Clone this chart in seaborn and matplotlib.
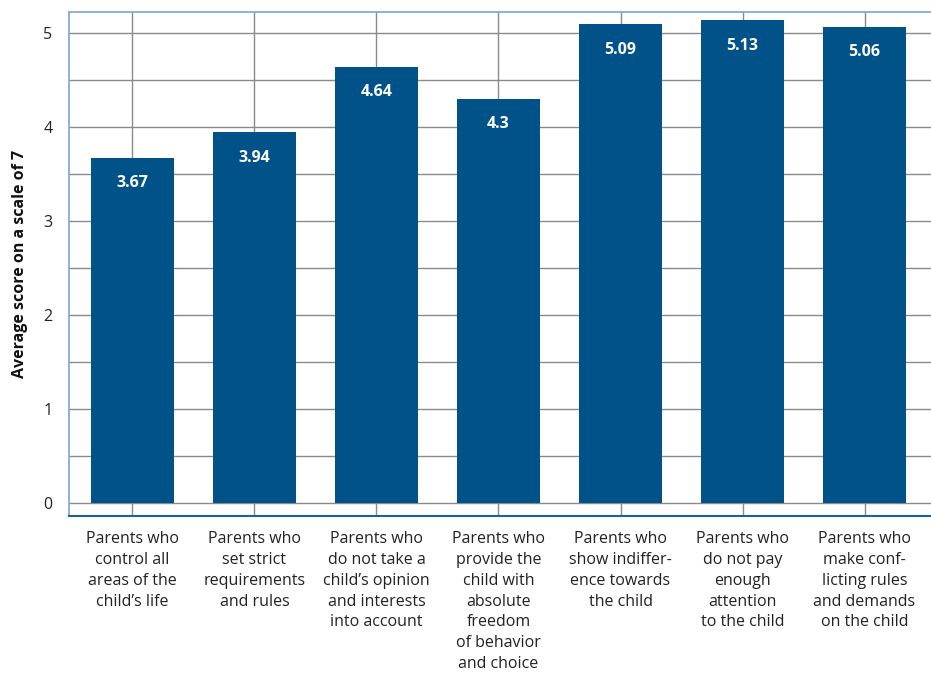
import matplotlib
matplotlib.use("Agg")
import matplotlib.pyplot as plt
import seaborn as sns
import pandas as pd
import numpy as np

categories = [
    "Parents who\ncontrol all\nareas of the\nchild\u2019s life",
    "Parents who\nset strict\nrequirements\nand rules",
    "Parents who\ndo not take a\nchild\u2019s opinion\nand interests\ninto account",
    "Parents who\nprovide the\nchild with\nabsolute\nfreedom\nof behavior\nand choice",
    "Parents who\nshow indiffer-\nence towards\nthe child",
    "Parents who\ndo not pay\nenough\nattention\nto the child",
    "Parents who\nmake conf-\nlicting rules\nand demands\non the child",
]
scores = [3.67, 3.94, 4.64, 4.3, 5.09, 5.13, 5.06]
value_labels = ["3.67", "3.94", "4.64", "4.3", "5.09", "5.13", "5.06"]
y_ticks = [0, 1, 2, 3, 4, 5]
y_label = "Average score on a scale of 7"

sns.set_theme(style="white")
plt.rcParams["font.family"] = ["Open Sans", "DejaVu Sans"]

df = pd.DataFrame({"cat": categories, "score": scores})

fig = plt.figure(figsize=(9.31, 6.73), dpi=100)
ax = fig.add_axes([69 / 931, 1 - 516 / 673, 1 - 69 / 931 + 0.002, (516 - 12) / 673])

bar_color = "#02528a"
sns.barplot(data=df, x="cat", y="score", color=bar_color, saturation=1,
            width=0.68, ax=ax, zorder=3, edgecolor="none")

ax.set_ylim(-0.14, 5.22)
ax.set_xlim(-0.52, 6.56)

# grid
ax.set_yticks(np.arange(0, 5.01, 0.5), minor=True)
ax.set_yticks(y_ticks)
ax.set_yticklabels([str(t) for t in y_ticks], fontsize=11.5, color="#222222")
ax.grid(True, which="both", axis="y", color="#8a8a8a", linewidth=1.0, zorder=0)
ax.grid(True, which="major", axis="x", color="#8a8a8a", linewidth=1.0, zorder=0)
ax.set_axisbelow(True)
ax.tick_params(axis="both", which="both", length=0)
ax.tick_params(axis="y", pad=12)
ax.tick_params(axis="x", pad=11)

ax.set_xticks(range(len(categories)))
ax.set_xticklabels(categories, fontsize=11.5, color="#222222", linespacing=1.4,
                   va="top", ha="center")
ax.set_xlabel("")
ax.set_ylabel(y_label, fontsize=11.5, fontweight="bold", color="#111111", labelpad=11)

for side in ["top", "left", "right"]:
    ax.spines[side].set_color("#7aa6cc")
    ax.spines[side].set_linewidth(1.2)
ax.spines["bottom"].set_color("#1f5f99")
ax.spines["bottom"].set_linewidth(1.5)

for i, (v, lab) in enumerate(zip(scores, value_labels)):
    ax.text(i, v - 0.27, lab, ha="center", va="center", color="white",
            fontsize=11.5, fontweight="bold", zorder=4)

fig.savefig("out.png", dpi=100)
